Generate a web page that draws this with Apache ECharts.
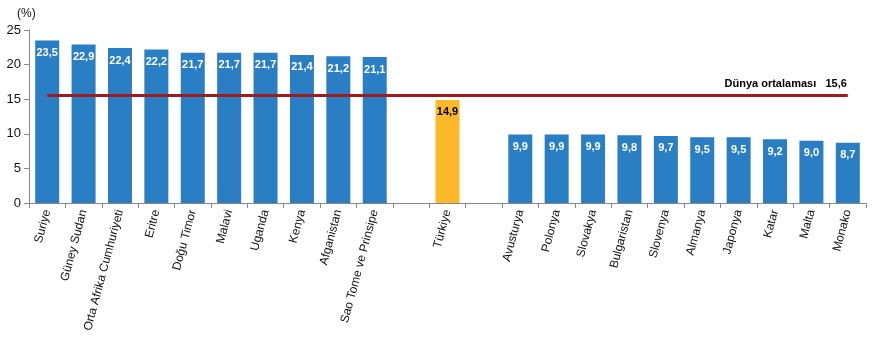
<!DOCTYPE html>
<html><head><meta charset="utf-8">
<script src="https://cdn.jsdelivr.net/npm/echarts@6/dist/echarts.min.js"></script>
<style>html,body{margin:0;padding:0;background:#fff}#c{width:872px;height:338px}</style>
</head><body><div id="c"></div>
<script>
const categories = ['Suriye','Güney Sudan','Orta Afrika Cumhuriyeti','Eritre','Doğu Timor','Malavi','Uganda','Kenya','Afganistan','Sao Tome ve Prinsipe','','Türkiye','','Avusturya','Polonya','Slovakya','Bulgaristan','Slovenya','Almanya','Japonya','Katar','Malta','Monako'];
const values = [23.5,22.9,22.4,22.2,21.7,21.7,21.7,21.4,21.2,21.1,null,14.9,null,9.9,9.9,9.9,9.8,9.7,9.5,9.5,9.2,9.0,8.7];
const worldAverage = 15.6;
const worldLabel = 'Dünya ortalaması';
const yTicks = [0,5,10,15,20,25];
const highlight = 'Türkiye';

const fmt = v => v.toFixed(1).replace('.', ',');
const data = values.map((v,i) => {
  if (v === null) return '-';
  const isHi = categories[i] === highlight;
  return {value: v, itemStyle: {color: isHi ? '#fbb829' : '#2a7ec3'},
    label: {color: isHi ? '#000' : '#fff'}};
});
const chart = echarts.init(document.getElementById('c'));
chart.setOption({
  animation: false,
  grid: {left: 29, right: 6, top: 30, bottom: 135},
  xAxis: {
    type: 'category', data: categories,
    axisLine: {lineStyle: {color: '#888', width: 1}},
    axisTick: {show: true, alignWithLabel: false, length: 5, lineStyle: {color: '#888'}},
    axisLabel: {rotate: 75, interval: 0, fontFamily: 'Liberation Sans, Arial', fontSize: 12, color: '#111', margin: 7}
  },
  yAxis: {
    type: 'value', min: 0, max: 25, interval: 5,
    name: '(%)', nameLocation: 'end', nameGap: 10,
    nameTextStyle: {fontFamily: 'Liberation Sans, Arial', fontSize: 12, color: '#111', align: 'left', padding: [0,0,0,-12]},
    axisLine: {show: true, lineStyle: {color: '#888'}},
    axisTick: {show: true, inside: false, length: 5, lineStyle: {color: '#888'}},
    splitLine: {show: false},
    axisLabel: {fontFamily: 'Liberation Sans, Arial', fontSize: 13, color: '#111', margin: 8,
      formatter: v => yTicks.includes(v) ? String(v) : ''}
  },
  series: [{
    type: 'bar', data: data, barWidth: 24,
    label: {show: true, position: 'insideTop', distance: 7, fontFamily: 'Liberation Sans, Arial',
      fontSize: 11, fontWeight: 'bold', formatter: p => fmt(p.value)},
    markLine: {
      silent: true, symbol: 'none',
      lineStyle: {color: '#a01c1c', width: 3, type: 'solid'},
      label: {show: true, position: 'insideEndTop', distance: [1, 6],
        formatter: worldLabel + '   ' + fmt(worldAverage),
        fontFamily: 'Liberation Sans, Arial', fontSize: 11, fontWeight: 'bold', color: '#000'},
      data: [[{xAxis: 0, yAxis: worldAverage}, {xAxis: categories.length - 1, yAxis: worldAverage}]]
    }
  }]
});
</script></body></html>
